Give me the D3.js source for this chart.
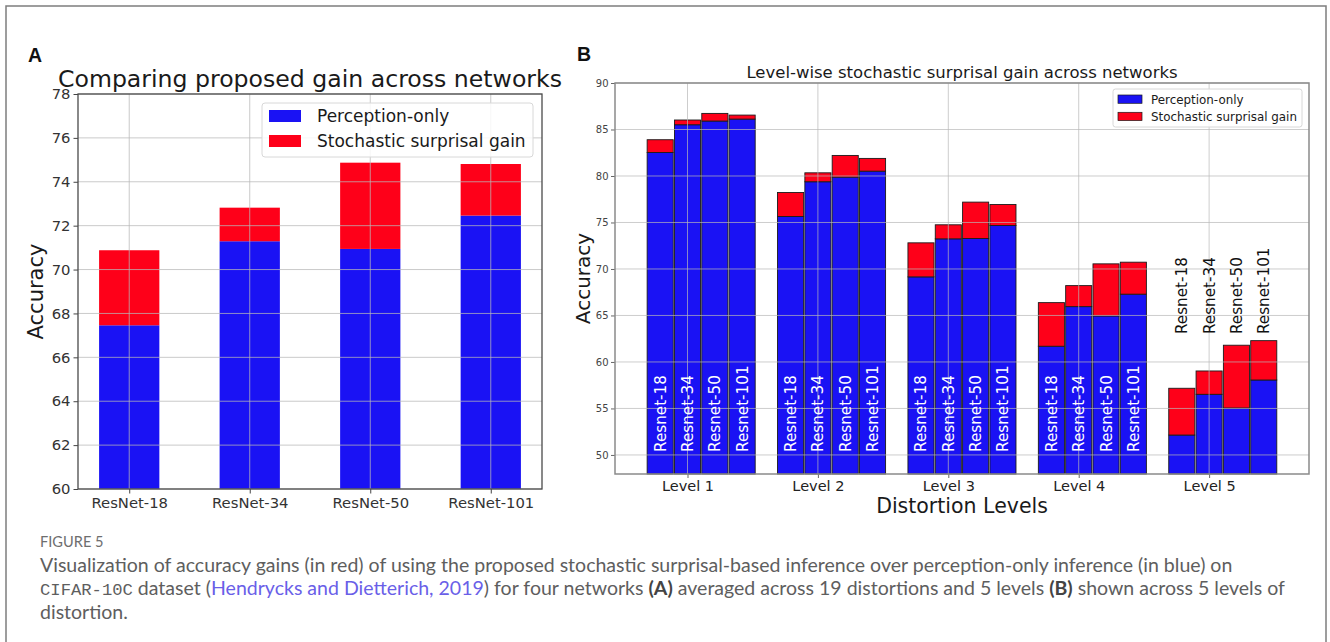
<!DOCTYPE html>
<html>
<head>
<meta charset="utf-8">
<script src="https://cdn.jsdelivr.net/npm/d3@7"></script>
<style>
  html, body { margin: 0; padding: 0; background: #fff; }
  svg { display: block; }
</style>
</head>
<body>
<svg id="fig" width="1330" height="642"></svg>
<script>
// ---------------- DATA ----------------
const networksA = ["ResNet-18", "ResNet-34", "ResNet-50", "ResNet-101"];
const perceptionA = [67.46, 71.29, 70.94, 72.46];
const gainA = [3.42, 1.53, 3.93, 2.35];
const yTicksA = [60, 62, 64, 66, 68, 70, 72, 74, 76, 78];

const levels = ["Level 1", "Level 2", "Level 3", "Level 4", "Level 5"];
const networksB = ["Resnet-18", "Resnet-34", "Resnet-50", "Resnet-101"];
// rows = levels, columns = networks
const perceptionB = [
  [82.53, 85.51, 85.91, 86.12],
  [75.64, 79.38, 79.88, 80.52],
  [69.15, 73.24, 73.28, 74.67],
  [61.69, 65.95, 64.95, 67.29],
  [52.14, 56.52, 55.05, 58.06]
];
const gainB = [
  [1.37, 0.51, 0.82, 0.43],
  [2.58, 0.96, 2.33, 1.37],
  [3.66, 1.51, 3.91, 2.26],
  [4.69, 2.26, 5.60, 3.44],
  [5.03, 2.51, 6.75, 4.23]
];
const yTicksB = [50, 55, 60, 65, 70, 75, 80, 85, 90];
const legendLabels = ["Perception-only", "Stochastic surprisal gain"];

// ---------------- STYLE ----------------
const BLUE = "#1a12f4";
const RED = "#fe0019";
const FONT = "DejaVu Sans, sans-serif";

const svg = d3.select("#fig");

// figure frame
svg.append("rect").attr("x", 6).attr("y", 6).attr("width", 1320).attr("height", 700)
  .attr("fill", "none").attr("stroke", "#7d7d7d").attr("stroke-width", 1.5);

// panel letters
svg.append("text").attr("x", 28).attr("y", 61.5).text("A")
  .attr("font-family", "Liberation Sans, Arial, sans-serif").attr("font-weight", "bold")
  .attr("font-size", 19.5).attr("fill", "#111");
svg.append("text").attr("x", 577).attr("y", 61).text("B")
  .attr("font-family", "Liberation Sans, Arial, sans-serif").attr("font-weight", "bold")
  .attr("font-size", 19.5).attr("fill", "#111");

// ================= PANEL A =================
(function () {
  const L = 78, R = 542, T = 94, B = 489;
  const x = d3.scaleLinear().domain([-0.425, 3.425]).range([L, R]);
  const y = d3.scaleLinear().domain([60, 78]).range([B, T]);
  const bw = 0.5;
  const g = svg.append("g");

  g.selectAll("rect.pa").data(networksA).join("rect")
    .attr("x", (d, i) => x(i - bw / 2)).attr("width", x(bw) - x(0))
    .attr("y", (d, i) => y(perceptionA[i]))
    .attr("height", (d, i) => y(60) - y(perceptionA[i]))
    .attr("fill", BLUE);
  g.selectAll("rect.ga").data(networksA).join("rect")
    .attr("x", (d, i) => x(i - bw / 2)).attr("width", x(bw) - x(0))
    .attr("y", (d, i) => y(perceptionA[i] + gainA[i]))
    .attr("height", (d, i) => y(perceptionA[i]) - y(perceptionA[i] + gainA[i]))
    .attr("fill", RED);

  g.selectAll("line.gy").data(yTicksA).join("line")
    .attr("x1", L).attr("x2", R).attr("y1", d => y(d)).attr("y2", d => y(d))
    .attr("stroke", "#b8b8b8").attr("stroke-opacity", 0.75).attr("stroke-width", 1);
  g.selectAll("line.gx").data(networksA).join("line")
    .attr("x1", (d, i) => x(i)).attr("x2", (d, i) => x(i)).attr("y1", T).attr("y2", B)
    .attr("stroke", "#b8b8b8").attr("stroke-opacity", 0.75).attr("stroke-width", 1);

  const ay = g.append("g").attr("transform", `translate(${L},0)`)
    .call(d3.axisLeft(y).tickValues(yTicksA).tickSize(4.5).tickPadding(3).tickFormat(d3.format("d")));
  ay.select(".domain").remove();
  ay.selectAll("text").attr("font-family", FONT).attr("font-size", 14.8).attr("fill", "#333");
  ay.selectAll("line").attr("stroke", "#444");

  const ax = g.append("g").attr("transform", `translate(0,${B})`)
    .call(d3.axisBottom(x).tickValues([0, 1, 2, 3]).tickSize(4.5).tickPadding(4)
      .tickFormat(i => networksA[i]));
  ax.select(".domain").remove();
  ax.selectAll("text").attr("font-family", FONT).attr("font-size", 14.8).attr("fill", "#333");
  ax.selectAll("line").attr("stroke", "#444");

  g.append("rect").attr("x", L).attr("y", T).attr("width", R - L).attr("height", B - T)
    .attr("fill", "none").attr("stroke", "#4a4a4a").attr("stroke-width", 1.3);

  g.append("text").attr("x", (L + R) / 2).attr("y", 87).attr("text-anchor", "middle")
    .attr("font-family", FONT).attr("font-size", 23.6).attr("fill", "#1a1a1a")
    .text("Comparing proposed gain across networks");
  g.append("text").attr("transform", `translate(43,${(T + B) / 2}) rotate(-90)`)
    .attr("text-anchor", "middle").attr("font-family", FONT).attr("font-size", 21)
    .attr("fill", "#1a1a1a").text("Accuracy");

  const lg = g.append("g");
  lg.append("rect").attr("x", 262).attr("y", 103).attr("width", 271).attr("height", 54)
    .attr("rx", 3).attr("fill", "#fff").attr("fill-opacity", 0.85)
    .attr("stroke", "#d8d8d8").attr("stroke-width", 1);
  lg.selectAll("rect.sw").data(legendLabels).join("rect")
    .attr("x", 269).attr("y", (d, i) => 110 + i * 25).attr("width", 32).attr("height", 12)
    .attr("fill", (d, i) => i === 0 ? BLUE : RED);
  lg.selectAll("text.lt").data(legendLabels).join("text")
    .attr("x", 317).attr("y", (d, i) => 122 + i * 25)
    .attr("font-family", FONT).attr("font-size", 17).attr("fill", "#1a1a1a").text(d => d);
})();

// ================= PANEL B =================
(function () {
  const L = 615, R = 1309, T = 83, B = 474;
  const x = d3.scaleLinear().domain([-0.556, 4.766]).range([L, R]);
  const y = d3.scaleLinear().domain([47.95, 90]).range([B, T]);
  const step = 0.2095, bw = 0.2;
  const g = svg.append("g");

  const cells = [];
  levels.forEach((lv, li) => networksB.forEach((nw, ni) => {
    cells.push({ li, ni, p: perceptionB[li][ni], gn: gainB[li][ni], name: nw });
  }));
  const cx = d => x(d.li + (d.ni - 1) * step);
  const wpx = x(bw) - x(0);

  g.selectAll("rect.pb").data(cells).join("rect")
    .attr("x", d => cx(d) - wpx / 2).attr("width", wpx)
    .attr("y", d => y(d.p)).attr("height", d => B - y(d.p))
    .attr("fill", BLUE).attr("stroke", "#1b1b1b").attr("stroke-width", 0.9);
  g.selectAll("rect.gb").data(cells).join("rect")
    .attr("x", d => cx(d) - wpx / 2).attr("width", wpx)
    .attr("y", d => y(d.p + d.gn)).attr("height", d => y(d.p) - y(d.p + d.gn))
    .attr("fill", RED).attr("stroke", "#1b1b1b").attr("stroke-width", 0.9);

  g.selectAll("line.gy").data(yTicksB).join("line")
    .attr("x1", L).attr("x2", R).attr("y1", d => y(d)).attr("y2", d => y(d))
    .attr("stroke", "#b8b8b8").attr("stroke-opacity", 0.7).attr("stroke-width", 1);
  g.selectAll("line.gx").data(levels).join("line")
    .attr("x1", (d, i) => x(i)).attr("x2", (d, i) => x(i)).attr("y1", T).attr("y2", B)
    .attr("stroke", "#b8b8b8").attr("stroke-opacity", 0.7).attr("stroke-width", 1);

  const labelBase = 50;   // data value where inner labels start
  const labelTop5 = 63;   // data value where level-5 labels start
  g.selectAll("text.bl").data(cells).join("text")
    .attr("transform", d => `translate(${cx(d)},${d.li === 4 ? y(labelTop5) : y(labelBase) - 3}) rotate(-90)`)
    .attr("dy", "0.36em")
    .attr("font-family", FONT).attr("font-size", 15.2)
    .attr("fill", d => d.li === 4 ? "#111" : "#fff").text(d => d.name);

  const ay = g.append("g").attr("transform", `translate(${L},0)`)
    .call(d3.axisLeft(y).tickValues(yTicksB).tickSize(4).tickPadding(2.5).tickFormat(d3.format("d")));
  ay.select(".domain").remove();
  ay.selectAll("text").attr("font-family", FONT).attr("font-size", 10).attr("fill", "#444");
  ay.selectAll("line").attr("stroke", "#666");

  const ax = g.append("g").attr("transform", `translate(0,${B})`)
    .call(d3.axisBottom(x).tickValues([0, 1, 2, 3, 4]).tickSize(4).tickPadding(3)
      .tickFormat(i => levels[i]));
  ax.select(".domain").remove();
  ax.selectAll("text").attr("font-family", FONT).attr("font-size", 14.5).attr("fill", "#222");
  ax.selectAll("line").attr("stroke", "#666");

  g.append("rect").attr("x", L).attr("y", T).attr("width", R - L).attr("height", B - T)
    .attr("fill", "none").attr("stroke", "#8a8a8a").attr("stroke-width", 1.5);

  g.append("text").attr("x", (L + R) / 2).attr("y", 78).attr("text-anchor", "middle")
    .attr("font-family", FONT).attr("font-size", 16.5).attr("fill", "#1a1a1a")
    .text("Level-wise stochastic surprisal gain across networks");
  g.append("text").attr("x", (L + R) / 2).attr("y", 513).attr("text-anchor", "middle")
    .attr("font-family", FONT).attr("font-size", 20.5).attr("fill", "#1a1a1a")
    .text("Distortion Levels");
  g.append("text").attr("transform", `translate(590,${(T + B) / 2}) rotate(-90)`)
    .attr("text-anchor", "middle").attr("font-family", FONT).attr("font-size", 20)
    .attr("fill", "#1a1a1a").text("Accuracy");

  const lg = g.append("g");
  lg.append("rect").attr("x", 1113).attr("y", 89).attr("width", 189).attr("height", 38)
    .attr("rx", 2.5).attr("fill", "#fff").attr("fill-opacity", 0.85)
    .attr("stroke", "#d8d8d8").attr("stroke-width", 1);
  lg.selectAll("rect.sw").data(legendLabels).join("rect")
    .attr("x", 1118).attr("y", (d, i) => 95 + i * 17.3).attr("width", 24).attr("height", 8.3)
    .attr("fill", (d, i) => i === 0 ? BLUE : RED).attr("stroke", "#1b1b1b").attr("stroke-width", 0.7);
  lg.selectAll("text.lt").data(legendLabels).join("text")
    .attr("x", 1151).attr("y", (d, i) => 103.5 + i * 17.3)
    .attr("font-family", FONT).attr("font-size", 11.9).attr("fill", "#1a1a1a").text(d => d);
})();

// ================= CAPTION =================
(function () {
  const CAP = "Lato, 'Open Sans', sans-serif";
  const base = 16;
  svg.append("text").attr("x", 40).attr("y", 546.5)
    .attr("font-family", CAP).attr("font-size", 14.6).attr("fill", "#6e6e6e").text("FIGURE 5");

  const lines = [
    [{ t: "Visualization of accuracy gains (in red) of using the proposed stochastic surprisal-based inference over perception-only inference (in blue) on" }],
    [{ t: "CIFAR-10C", mono: true }, { t: " dataset (" }, { t: "Hendrycks and Dietterich, 2019", link: true },
     { t: ") for four networks " }, { t: "(A)", bold: true }, { t: " averaged across 19 distortions and 5 levels " },
     { t: "(B)", bold: true }, { t: " shown across 5 levels of" }],
    [{ t: "distortion." }]
  ];
  const texts = lines.map((parts, li) => {
    const tx = svg.append("text").attr("x", 40).attr("y", 571.5 + li * 23.8)
      .attr("font-family", CAP).attr("font-size", base).attr("fill", "#5e5e5e");
    parts.forEach(p => {
      const ts = tx.append("tspan").text(p.t);
      if (p.mono) ts.attr("font-family", "Liberation Mono, DejaVu Sans Mono, monospace").attr("font-size", base * 0.88);
      if (p.link) ts.attr("fill", "#6a5fe8");
      if (p.bold) ts.attr("font-weight", "bold").attr("fill", "#444");
    });
    return tx;
  });
  const w = texts[0].node().getComputedTextLength();
  const s = 1193 / w;
  texts.forEach(tx => {
    tx.attr("font-size", base * s);
    tx.selectAll("tspan").each(function () {
      const fs = d3.select(this).attr("font-size");
      if (fs) d3.select(this).attr("font-size", +fs * s);
    });
  });
})();
</script>
</body>
</html>
